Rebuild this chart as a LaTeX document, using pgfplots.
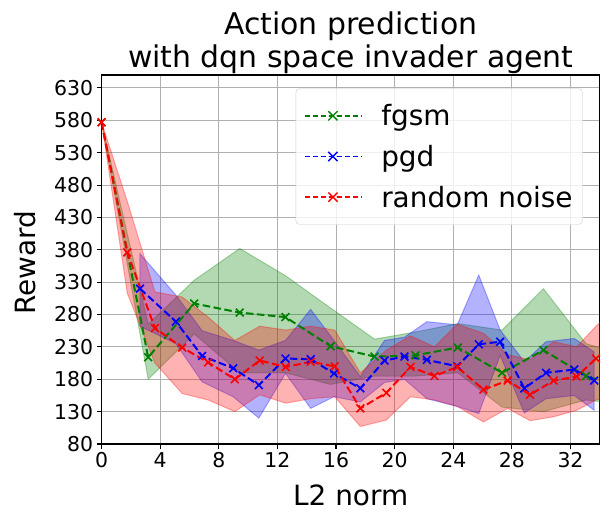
\documentclass[border=0pt]{standalone}
\usepackage{pgfplots}
\pgfplotsset{compat=1.18}
\usepackage{fontspec}
\setmainfont{DejaVu Sans}
\definecolor{mgreen}{HTML}{008000}
\definecolor{mblue}{HTML}{0000FF}
\definecolor{mred}{HTML}{FF0000}
\begin{document}
\begin{tikzpicture}
\useasboundingbox (-101.6bp,-77bp) rectangle (508.4bp,444bp);
\begin{axis}[
  at={(0,0)}, anchor=south west,
  scale only axis, width=498.2bp, height=369bp,
  xmin=0, xmax=34, ymin=80, ymax=650,
  xtick={0,4,...,32}, ytick={80,130,...,630},
  xtick pos=bottom, ytick pos=left,
  grid=major, grid style={color=black!31, line width=0.9bp},
  axis line style={line width=1.1bp},
  tick style={black, line width=1.1bp}, tick align=outside, major tick length=5bp,
  /pgf/number format/assume math mode=true,
  tick label style={font=\fontsize{20.5}{24}\selectfont},
  xlabel={L2 norm}, ylabel={Reward},
  label style={font=\fontsize{28}{32}\selectfont},
  xlabel style={at={(axis description cs:0.5,-0.1396)}, anchor=center},
  ylabel style={at={(axis description cs:-0.153,0.492)}, anchor=center},
  title={Action prediction\\with dqn space invader agent},
  every axis title shift=0pt,
  title style={align=center, font=\fontsize{30}{32.4}\selectfont, at={(0.5,1)}, anchor=south, inner sep=1.5bp},
  legend style={at={(0.9657,0.964)}, anchor=north east, draw=black!20, rounded corners=4bp,
    fill=white, fill opacity=0.8, text opacity=1, font=\fontsize{28}{32}\selectfont,
    inner xsep=8bp, inner ysep=14bp, row sep=14bp},
  legend cell align=left,
  legend image code/.code={\draw[line width=1.5bp, dash pattern=on 5bp off 3bp, mark size=6.5bp, mark options={solid, line width=1.4bp}, mark repeat=2,mark phase=2] plot coordinates {(0bp,0bp)(28.35bp,0bp)(56.7bp,0bp)}; \path[draw=none, fill=none] (56.7bp,0bp) -- (74.7bp,0bp);},
  every axis plot/.append style={line width=2bp, dash pattern=on 7.5bp off 3.5bp, mark=x, mark size=5.5bp, mark options={solid, line width=1.6bp}},
]
% bands
\addplot[forget plot, solid, mark=none, fill=mgreen, fill opacity=0.3, draw=mgreen, draw opacity=0.3, line width=1bp] coordinates {
(0,577)(3.18,265)(6.32,333)(9.43,382)(12.55,340)(15.63,290)(18.63,242)(21.42,253)(24.31,266)(27.33,256)(30.15,320)(33.06,235)(36,215)
(36,140)(33.06,148)(30.15,130)(27.33,137)(24.31,190)(21.42,185)(18.63,185)(15.63,172)(12.55,190)(9.43,190)(6.32,250)(3.18,180)(0,577)} -- cycle;
\addplot[forget plot, solid, mark=none, fill=mblue, fill opacity=0.3, draw=mblue, draw opacity=0.3, line width=1bp] coordinates {
(2.62,374)(5.07,310)(6.86,255)(8.98,240)(10.73,225)(12.55,240)(14.27,288)(15.86,240)(17.66,184)(19.31,240)(20.67,245)(22.2,269)(24.27,264)(25.74,341)(27.2,256)(28.85,207)(30.33,238)(32.26,243)(33.62,222)
(33.62,132)(32.26,155)(30.33,150)(28.85,128)(27.2,217)(25.74,127)(24.27,138)(22.2,150)(20.67,180)(19.31,175)(17.66,145)(15.86,153)(14.27,135)(12.55,189)(10.73,120)(8.98,153)(6.86,176)(5.07,235)(2.62,262)} -- cycle;
\addplot[forget plot, solid, mark=none, fill=mred, fill opacity=0.3, draw=mred, draw opacity=0.3, line width=1bp] coordinates {
(0,577)(1.75,455)(3.64,315)(5.50,307)(7.27,276)(9.09,240)(10.79,262)(12.57,256)(14.27,262)(15.91,256)(17.66,190)(19.43,225)(21.08,247)(22.72,230)(24.27,265)(26.06,251)(27.71,218)(29.24,210)(30.85,238)(32.42,230)(33.74,262)(36,310)
(36,160)(33.74,148)(32.42,132)(30.85,122)(29.24,116)(27.71,135)(26.06,114)(24.27,138)(22.72,148)(21.08,153)(19.43,117)(17.66,107)(15.91,153)(14.27,150)(12.57,143)(10.79,156)(9.09,130)(7.27,148)(5.50,158)(3.64,205)(1.75,313)(0,577)} -- cycle;
% lines
\addplot[mgreen] coordinates {
(0,577)(3.18,214)(6.32,297)(9.43,283)(12.55,276)(15.63,231)(18.63,215)(21.42,217)(24.31,229)(27.33,190)(30.15,225)(33.06,185)(36,165)};
\addplot[mblue] coordinates {
(2.62,320)(5.07,269)(6.86,216)(8.98,197)(10.73,171)(12.55,212)(14.27,211)(15.86,189)(17.66,166)(19.31,209)(20.67,215)(22.2,210)(24.27,200)(25.74,234)(27.2,238)(28.85,166)(30.33,190)(32.26,195)(33.62,178)};
\addplot[mred] coordinates {
(0,577)(1.75,376)(3.64,259)(5.50,229)(7.27,206)(9.09,180)(10.79,209)(12.57,199)(14.27,207)(15.91,200)(17.66,135)(19.43,159)(21.08,199)(22.72,185)(24.27,199)(26.06,164)(27.71,178)(29.24,156)(30.85,178)(32.42,184)(33.74,212)};
\legend{fgsm,pgd,random noise}
\end{axis}
\end{tikzpicture}
\end{document}
